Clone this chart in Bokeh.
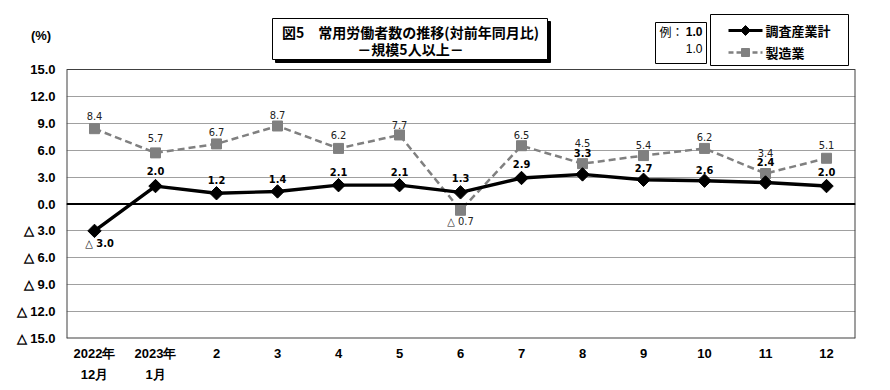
from bokeh.plotting import figure
from bokeh.models import (Range1d, FixedTicker, LinearAxis, Span, Label, ColumnDataSource)
from bokeh.core.properties import value
from bokeh.embed import file_html
from bokeh.resources import INLINE

# ---------------- data ----------------
months_line1 = ["2022年", "2023年", "2", "3", "4", "5", "6", "7", "8", "9", "10", "11", "12"]
months_line2 = ["12月", "1月", "", "", "", "", "", "", "", "", "", "", ""]
total = [-3.0, 2.0, 1.2, 1.4, 2.1, 2.1, 1.3, 2.9, 3.3, 2.7, 2.6, 2.4, 2.0]
manufacturing = [8.4, 5.7, 6.7, 8.7, 6.2, 7.7, -0.7, 6.5, 4.5, 5.4, 6.2, 3.4, 5.1]
y_ticks = [-15, -12, -9, -6, -3, 0, 3, 6, 9, 12, 15]
series_names = ["調査産業計", "製造業"]
title_lines = ["図5　常用労働者数の推移(対前年同月比)", "－規模5人以上－"]
unit_label = "(%)"

# label offsets in px (positive = above the point)
total_label_dy = [-13, 15, 13, 12, 13.5, 13.5, 14, 14, 21, 12, 11, 20, 14.5]
mfg_label_dy = [13, 15, 12, 11, 13, 10, -11, 11, 21, 11, 11, 21, 13]

# ---------------- layout helpers (page pixels) ----------------
W, H = 890, 390
FRAME_L, FRAME_R, FRAME_T, FRAME_B = 66, 855, 69, 338
X0, X1 = -0.459, 12.475
PXY = 30.0 / (FRAME_B - FRAME_T)
PXX = (X1 - X0) / (FRAME_R - FRAME_L)


def gx(px):
    return X0 + (px - FRAME_L) * PXX


def gy(py):
    return 15 - (py - FRAME_T) * PXY


def fmt(v):
    return f"△ {abs(v):.1f}" if v < 0 else f"{v:.1f}"


UNIT_Y = gy(35)
y_labels = {t: fmt(t) for t in y_ticks}
y_labels[UNIT_Y] = unit_label + "\u2004"

xs = list(range(len(months_line1)))

p = figure(width=W, height=H, output_backend="svg", toolbar_location=None,
           x_range=Range1d(X0, X1), y_range=Range1d(-15, gy(0)),
           min_border_left=FRAME_L, min_border_right=W - FRAME_R, min_border_top=0,
           min_border_bottom=H - FRAME_B,
           x_axis_location=None, y_axis_location=None)
p.outline_line_color = None
p.background_fill_color = "white"
p.border_fill_color = "white"

# y axis
yax = LinearAxis(ticker=FixedTicker(ticks=y_ticks + [UNIT_Y]))
yax.major_label_overrides = y_labels
yax.axis_line_color = None
yax.major_tick_line_color = None
yax.minor_tick_line_color = None
yax.major_tick_out = 0
yax.major_tick_in = 0
yax.major_label_standoff = 11
yax.major_label_text_font = "Liberation Sans"
yax.major_label_text_font_style = "bold"
yax.major_label_text_font_size = "13px"
yax.major_label_text_color = "black"
p.add_layout(yax, "left")

# x axes (two lines of labels)
for labels, standoff in ((months_line1, 7), (months_line2, 3)):
    ax = LinearAxis(ticker=FixedTicker(ticks=xs))
    ax.major_label_overrides = {i: lab for i, lab in zip(xs, labels)}
    ax.axis_line_color = None
    ax.major_tick_line_color = None
    ax.minor_tick_line_color = None
    ax.major_tick_out = 0
    ax.major_tick_in = 0
    ax.major_label_standoff = standoff
    ax.major_label_text_font = "Liberation Sans"
    ax.major_label_text_font_style = "bold"
    ax.major_label_text_font_size = "13px"
    ax.major_label_text_color = "black"
    p.add_layout(ax, "below")

p.xgrid.visible = False
p.ygrid.ticker = FixedTicker(ticks=y_ticks[1:-1])
p.ygrid.grid_line_color = "#a0a0a0"
p.ygrid.grid_line_width = 1

# inner plot frame
p.segment(x0=[X0, X1, X0, X0], y0=[-15, -15, -15, 15], x1=[X0, X1, X1, X1], y1=[15, 15, -15, 15],
          line_color="#404040", line_width=[2, 2, 2, 1])
p.add_layout(Span(location=0, dimension="width", line_color="black", line_width=2))

# series
p.line(xs, manufacturing, line_color="#808080", line_width=2.5, line_dash="7 4")
p.scatter(xs, manufacturing, marker="square", size=10, fill_color="#808080", line_color="#808080")
p.line(xs, total, line_color="black", line_width=3.4)
p.scatter(xs, total, marker="square", size=9.5, angle=0.785398, fill_color="black",
          line_color="black")

LABEL_FONT = "DejaVu Sans Condensed, Liberation Sans"
# data labels
src_t = ColumnDataSource(dict(
    x=[x + (5 * PXX if v < 0 else 0) for x, v in zip(xs, total)],
    y=[v + d * PXY for v, d in zip(total, total_label_dy)],
    t=[fmt(v) for v in total]))
p.text(x="x", y="y", text="t", source=src_t, text_align="center", text_baseline="middle",
       text_font=value(LABEL_FONT), text_font_style="bold",
       text_font_size="11px", text_color="black")
src_m = ColumnDataSource(dict(
    x=xs,
    y=[v + d * PXY for v, d in zip(manufacturing, mfg_label_dy)],
    t=[fmt(v) for v in manufacturing]))
p.text(x="x", y="y", text="t", source=src_m, text_align="center", text_baseline="middle",
       text_font=value(LABEL_FONT), text_font_size="11px", text_color="#222222")

# boxes: title shadow, title, example, legend
p.quad(left=[gx(275)], right=[gx(550)], top=[gy(21)], bottom=[gy(62)],
       fill_color="black", line_color="black")
p.quad(left=[gx(272), gx(655), gx(710)], right=[gx(547), gx(706), gx(848)],
       top=[gy(18), gy(22), gy(14)], bottom=[gy(59), gy(63), gy(65)],
       fill_color="white", line_color="black", line_width=1)

TITLE_FONT = "Noto Sans CJK JP"
p.add_layout(Label(x=gx(410), y=gy(31), text=title_lines[0], text_align="center",
                   text_baseline="middle", text_font=TITLE_FONT, text_font_style="bold",
                   text_font_size="14px", text_color="black"))
p.add_layout(Label(x=gx(410), y=gy(48), text=title_lines[1], text_align="center",
                   text_baseline="middle", text_font=TITLE_FONT, text_font_style="bold",
                   text_font_size="14px", text_color="black"))

# example box content
p.add_layout(Label(x=gx(659), y=gy(31), text="例：", text_align="left", text_baseline="middle",
                   text_font=TITLE_FONT, text_font_size="12px", text_color="black"))
p.add_layout(Label(x=gx(702), y=gy(31), text="1.0", text_align="right", text_baseline="middle",
                   text_font="Liberation Sans", text_font_style="bold", text_font_size="12px",
                   text_color="black"))
p.add_layout(Label(x=gx(702), y=gy(48), text="1.0", text_align="right", text_baseline="middle",
                   text_font="Liberation Sans", text_font_size="12px", text_color="black"))

# legend content
leg_y = [gy(30), gy(52)]
p.line([gx(728), gx(762)], [leg_y[0], leg_y[0]], line_color="black", line_width=3)
p.scatter([gx(745)], [leg_y[0]], marker="square", size=7, angle=0.785398,
          fill_color="black", line_color="black")
p.line([gx(728), gx(762)], [leg_y[1], leg_y[1]], line_color="#808080", line_width=2.5,
       line_dash="5 3")
p.scatter([gx(745)], [leg_y[1]], marker="square", size=8, fill_color="#808080",
          line_color="#808080")
p.add_layout(Label(x=gx(765), y=leg_y[0], text=series_names[0], text_align="left",
                   text_baseline="middle", text_font=TITLE_FONT, text_font_style="bold",
                   text_font_size="13px", text_color="black"))
p.add_layout(Label(x=gx(765), y=leg_y[1], text=series_names[1], text_align="left",
                   text_baseline="middle", text_font=TITLE_FONT, text_font_style="bold",
                   text_font_size="13px", text_color="black"))

open("out.html", "w").write(file_html(p, INLINE))
